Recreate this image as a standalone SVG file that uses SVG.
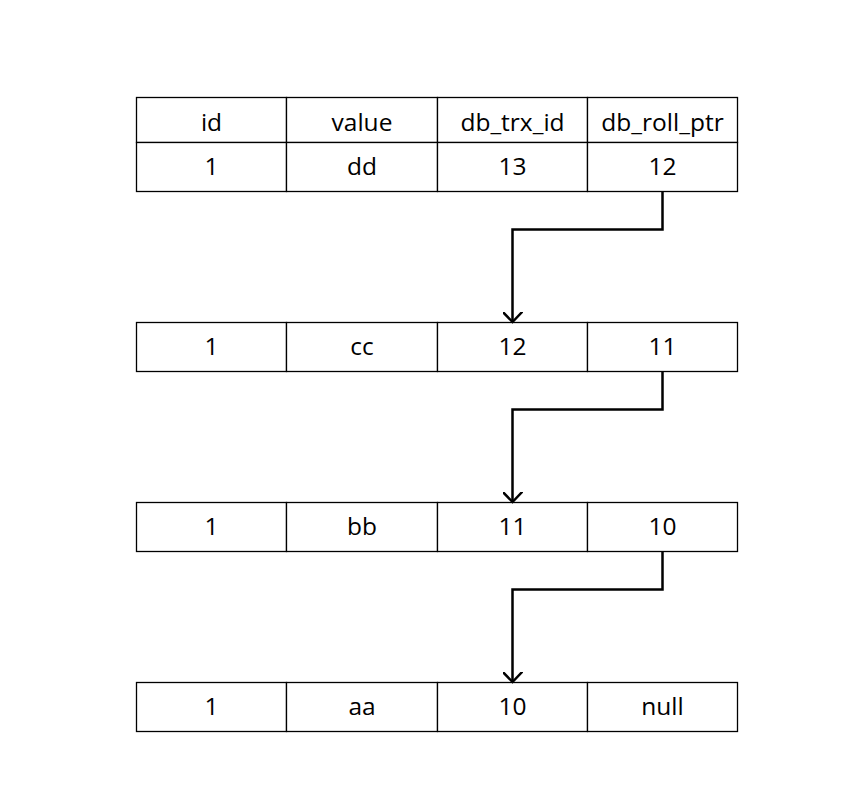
<svg xmlns="http://www.w3.org/2000/svg" width="868" height="812" viewBox="0 0 868 812">
<defs>
<style>
.cell{fill:#fff;stroke:#000;stroke-width:1.3}
.t{font-family:"Open Sans","Noto Sans","DejaVu Sans",sans-serif;font-size:24.5px;fill:#000;text-anchor:middle}
.c{fill:none;stroke:#000;stroke-width:2.5}
</style>
<marker id="arr" viewBox="0 0 20 20" refX="10" refY="10" markerWidth="20" markerHeight="20" markerUnits="userSpaceOnUse" orient="auto">
<path d="M-2.5,-2 L10,10 L-2.5,22" fill="none" stroke="#000" stroke-width="2.5"/>
</marker>
</defs>
<rect width="868" height="812" fill="#fff"/>
<g id="row1">
<rect class="cell" x="136.5" y="97.5" width="150" height="45"/>
<rect class="cell" x="286.5" y="97.5" width="151" height="45"/>
<rect class="cell" x="437.5" y="97.5" width="150" height="45"/>
<rect class="cell" x="587.5" y="97.5" width="150" height="45"/>
<rect class="cell" x="136.5" y="142.5" width="150" height="49"/>
<rect class="cell" x="286.5" y="142.5" width="151" height="49"/>
<rect class="cell" x="437.5" y="142.5" width="150" height="49"/>
<rect class="cell" x="587.5" y="142.5" width="150" height="49"/>
<text class="t" x="211.5" y="131">id</text>
<text class="t" x="362" y="131">value</text>
<text class="t" x="512.5" y="131">db_trx_id</text>
<text class="t" x="662.5" y="131">db_roll_ptr</text>
<text class="t" x="211.5" y="175">1</text>
<text class="t" x="362" y="175">dd</text>
<text class="t" x="512.5" y="175">13</text>
<text class="t" x="662.5" y="175">12</text>
</g>
<g id="row2">
<rect class="cell" x="136.5" y="322.5" width="150" height="49"/>
<rect class="cell" x="286.5" y="322.5" width="151" height="49"/>
<rect class="cell" x="437.5" y="322.5" width="150" height="49"/>
<rect class="cell" x="587.5" y="322.5" width="150" height="49"/>
<text class="t" x="211.5" y="355">1</text>
<text class="t" x="362" y="355">cc</text>
<text class="t" x="512.5" y="355">12</text>
<text class="t" x="662.5" y="355">11</text>
</g>
<g id="row3">
<rect class="cell" x="136.5" y="502.5" width="150" height="49"/>
<rect class="cell" x="286.5" y="502.5" width="151" height="49"/>
<rect class="cell" x="437.5" y="502.5" width="150" height="49"/>
<rect class="cell" x="587.5" y="502.5" width="150" height="49"/>
<text class="t" x="211.5" y="535">1</text>
<text class="t" x="362" y="535">bb</text>
<text class="t" x="512.5" y="535">11</text>
<text class="t" x="662.5" y="535">10</text>
</g>
<g id="row4">
<rect class="cell" x="136.5" y="682.5" width="150" height="49"/>
<rect class="cell" x="286.5" y="682.5" width="151" height="49"/>
<rect class="cell" x="437.5" y="682.5" width="150" height="49"/>
<rect class="cell" x="587.5" y="682.5" width="150" height="49"/>
<text class="t" x="211.5" y="715">1</text>
<text class="t" x="362" y="715">aa</text>
<text class="t" x="512.5" y="715">10</text>
<text class="t" x="662.5" y="715">null</text>
</g>
<g id="connectors">
<path class="c" d="M662.5,192 V229.5 H512.5 V322" marker-end="url(#arr)"/>
<path class="c" d="M662.5,372 V409.5 H512.5 V502" marker-end="url(#arr)"/>
<path class="c" d="M662.5,552 V589.5 H512.5 V682" marker-end="url(#arr)"/>
</g>
</svg>
